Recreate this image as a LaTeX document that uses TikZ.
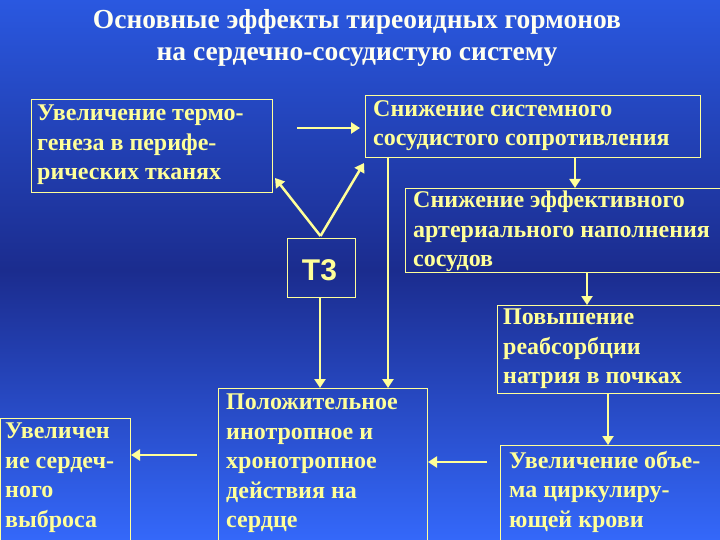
\documentclass[tikz,border=0pt]{standalone}
\usepackage{fontspec}
\setmainfont{Liberation Serif}
\newfontfamily\arialf{Liberation Sans}
\usetikzlibrary{arrows.meta,calc}
\definecolor{ylw}{HTML}{FFFF99}
\definecolor{bgtop}{HTML}{2A58E0}
\definecolor{bgmid}{HTML}{1B2C8E}
\definecolor{bgbot}{HTML}{3468FA}
\tikzset{
 box/.style={draw=ylw,line width=1pt,rectangle,inner sep=0pt,anchor=north west},
 txt/.style={text=ylw,font=\fontsize{24}{29.5}\selectfont\bfseries,align=left,anchor=north west,inner sep=0pt},
 arr/.style={draw=ylw,line width=2.5pt,-{Triangle[length=9pt,width=11pt]}},
 ln/.style={draw=ylw,line width=2.5pt}
}
\begin{document}
\begin{tikzpicture}[x=1pt,y=-1pt]
\shade[top color=bgtop,bottom color=bgbot,middle color=bgmid] (0,0) rectangle (720,540);
\useasboundingbox (0,0) rectangle (720,540);
\node[text=white!85!ylw,font=\fontsize{27.5}{32}\selectfont\bfseries,align=center] (title) at (357,38) {Основные эффекты тиреоидных гормонов\\на сердечно-сосудистую систему};
% boxes
\node[box,minimum width=241,minimum height=93] (A) at (31,99) {};
\node[txt] at (37,105) {Увеличение термо-\\генеза в перифе-\\рических тканях};
\node[box,minimum width=335,minimum height=62] (B) at (365,95) {};
\node[txt] at (373,100) {Снижение системного\\сосудистого сопротивления};
\node[box,minimum width=316,minimum height=84] (C) at (405,188) {};
\node[txt] at (413,191) {Снижение эффективного\\артериального наполнения\\сосудов};
\node[box,minimum width=68,minimum height=59] (T) at (287,238) {};
\node[text=ylw,font=\arialf\fontsize{30}{34}\selectfont\bfseries] at ($(T.center)+(-2,2)$) {Т3};
\node[box,minimum width=224,minimum height=88] (D) at (497,305) {};
\node[txt] at (503,309) {Повышение\\реабсорбции\\натрия в почках};
\node[box,minimum width=209,minimum height=153] (E) at (218,388) {};
\node[txt] at (226,394) {Положительное\\инотропное и\\хронотропное\\действия на\\сердце};
\node[box,minimum width=130,minimum height=123] (F) at (0,418) {};
\node[txt] at (5,423) {Увеличен\\ие сердеч-\\ного\\выброса};
\node[box,minimum width=221,minimum height=96] (G) at (500,445) {};
\node[txt] at (509,451) {Увеличение объе-\\ма циркулиру-\\ющей крови};
% connectors
\coordinate (a1) at (297,128);
\coordinate (a2) at (360,128);
\draw[arr] (a1) -- (a2);
\coordinate (t1) at ($(T.north)+(-1,-2)$);
\coordinate (ta) at (275,178);
\coordinate (tb) at (364,163);
\draw[arr] (t1) -- (ta);
\draw[arr] (t1) -- (tb);
\draw[arr] (575,157) -- (C.north -| 575,0);
\draw[ln] (388,157) -- (388,380);
\draw[arr] (388,380) -- (E.north -| 388,0);
\draw[arr] (320,297) -- (E.north -| 320,0);
\draw[arr] (587,272) -- (D.north -| 587,0);
\draw[arr] (608,393) -- (G.north -| 608,0);
\draw[arr] (487,462) -- (E.east |- 0,462);
\draw[arr] (197,455) -- (F.east |- 0,455);
\end{tikzpicture}
\end{document}
